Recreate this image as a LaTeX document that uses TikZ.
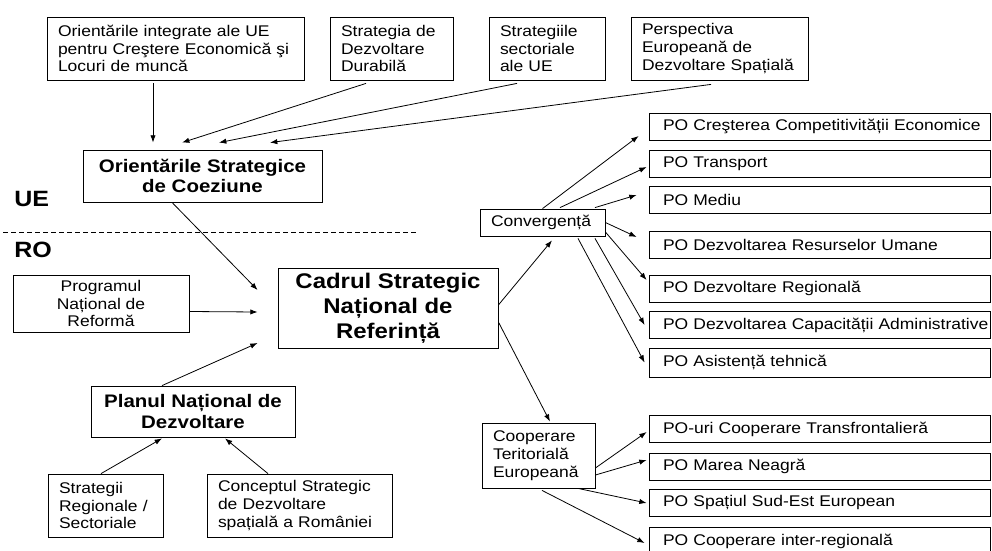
\documentclass[tikz,border=0pt]{standalone}
\usepackage{fontspec}
\setmainfont{Liberation Sans}[FakeStretch=1.13]
\usetikzlibrary{arrows.meta,calc}

\newcommand{\txtfont}{\fontsize{11.6pt}{13.3pt}\selectfont}
\newcommand{\keyfont}{\fontsize{13.6pt}{15.5pt}\selectfont\bfseries}
\newcommand{\bigkeyfont}{\fontsize{15.9pt}{18.75pt}\selectfont\bfseries}
\newcommand{\zonefont}{\fontsize{16.6pt}{20pt}\selectfont\bfseries}

\begin{document}
\begin{tikzpicture}[x=0.75pt,y=-0.75pt,
    srcbox/.style={draw,line width=0.6pt,align=left,inner xsep=8.25pt,inner ysep=0pt,font=\txtfont},
    keybox/.style={draw,line width=0.6pt,align=center,inner sep=0pt,font=\keyfont},
    pobox/.style={draw,line width=0.6pt,align=left,text width=255.75pt,inner xsep=0pt,inner ysep=0pt,
        minimum height=20.25pt,font=\txtfont,
        execute at begin node={\hyphenpenalty=10000\relax\hspace*{10.5pt}}},
    arr/.style={-{Latex[length=5.5pt,width=4pt]},line width=0.6pt},
    zone/.style={font=\zonefont,inner sep=0pt}]
    \useasboundingbox (0,0) rectangle (992,550);

    % sources at EU level
    \node[srcbox,text width=176.25pt,minimum height=47.25pt] (oig) at (175.5,48.5)
        {Orientările integrate ale UE\\pentru Creştere Economică şi\\Locuri de muncă};
    \node[srcbox,text width=75.75pt,minimum height=47.25pt] (sdd) at (391.5,48.5)
        {Strategia de\\Dezvoltare\\Durabilă};
    \node[srcbox,text width=70.5pt,minimum height=47.25pt] (ssue) at (547,48.5)
        {Strategiile\\sectoriale\\ale UE};
    \node[srcbox,text width=116.25pt,minimum height=47.25pt] (pedsp) at (719.5,48.5)
        {Perspectiva\\Europeană de\\Dezvoltare Spațială};

    \node[keybox,minimum width=179.25pt,minimum height=39pt] (osc) at (202.5,176)
        {Orientările Strategice\\de Coeziune};

    % EU / RO split
    \node[zone,anchor=base west] (ue) at (14,206) {UE};
    \draw[line width=0.6pt,dash pattern=on 3.75pt off 2.25pt] (3,232) -- (417,232);
    \node[zone,anchor=base west] (ro) at (14,257) {RO};

    % national level
    \node[keybox,font=\txtfont,minimum width=132pt,minimum height=42.75pt] (prog) at (101,303.5)
        {Programul\\Național de\\Reformă};
    \node[keybox,font=\bigkeyfont,minimum width=165pt,minimum height=60pt] (csnr) at (388,308)
        {Cadrul Strategic\\Național de\\Referință};
    \node[keybox,minimum width=153pt,minimum height=38.25pt] (pnd) at (193,411.5)
        {Planul Național de\\Dezvoltare};
    \node[srcbox,text width=69.75pt,minimum height=47.25pt] (strreg) at (105.5,505.5)
        {Strategii\\Regionale /\\Sectoriale};
    \node[srcbox,text width=122.25pt,minimum height=47.25pt] (csdsr) at (299.5,505.5)
        {Conceptul Strategic\\de Dezvoltare\\spațială a României};

    % objectives
    \node[srcbox,text width=77.25pt,minimum height=20.25pt] (conv) at (542.5,222.5) {Convergență};
    \node[srcbox,text width=68.25pt,minimum height=48.75pt] (cte) at (538.5,455.5)
        {Cooperare\\Teritorială\\Europeană};

    % operational programmes
    \node[pobox] (po1) at (819.5,126.5) {PO Creşterea Competitivității Economice};
    \node[pobox] (po2) at (819.5,163.5) {PO Transport};
    \node[pobox] (po3) at (819.5,200) {PO Mediu};
    \node[pobox] (po4) at (819.5,245) {PO Dezvoltarea Resurselor Umane};
    \node[pobox] (po5) at (819.5,288.5) {PO Dezvoltare Regională};
    \node[pobox] (po6) at (819.5,325) {PO Dezvoltarea Capacității Administrative};
    \node[pobox,minimum height=21.75pt] (po7) at (819.5,362.5) {PO Asistență tehnică};
    \node[pobox] (po8) at (819.5,429) {PO-uri Cooperare Transfrontalieră};
    \node[pobox] (po9) at (819.5,466.5) {PO Marea Neagră};
    \node[pobox] (po10) at (819.5,503) {PO Spațiul Sud-Est European};
    \node[pobox] (po11) at (819.5,541) {PO Cooperare inter-regională};

    % arrows
    \draw[arr] ($(oig.south)+(-22.5,3)$) -- ($(osc.north)+(-49.5,-7)$);
    \draw[arr] ($(sdd.south)+(-25.5,3)$) -- ($(osc.north)+(-20.5,-7)$);
    \draw[arr] ($(ssue.south)+(-30,3)$) -- ($(osc.north)+(16.5,-7)$);
    \draw[arr] ($(pedsp.south)+(-8.5,4)$) -- ($(osc.north)+(67.5,-7)$);

    \draw[arr] ($(osc.south)+(-30.5,0)$) -- ($(csnr.west)+(-20,-18)$);
    \draw[arr] ($(prog.east)+(0,8)$) -- ($(csnr.west)+(-20,4)$);
    \draw[arr] ($(pnd.north)+(-31,0)$) -- ($(csnr.west)+(-20,35)$);
    \draw[arr] ($(strreg.north)+(-4.5,0)$) -- ($(pnd.south)+(-31,1)$);
    \draw[arr] ($(csdsr.north)+(-31.5,0)$) -- ($(pnd.south)+(32,1)$);

    \draw[arr] ($(csnr.east)+(0,-3)$) -- ($(conv.south)+(9.5,4)$);
    \draw[arr] ($(csnr.east)+(0,14)$) -- ($(cte.north)+(11.5,-1)$);

    \draw[arr] (conv.north) -- ($(po1.west)+(-10,9.5)$);
    \draw[arr] ($(conv.north)+(17.5,-1)$) -- ($(po2.west)+(-2,3.5)$);
    \draw[arr] ($(conv.north)+(52.5,-1)$) -- ($(po3.west)+(-12,-5)$);
    \draw[arr] (conv.east) -- ($(po4.west)+(-12,-8)$);
    \draw[arr] ($(conv.east)+(0,9.5)$) -- ($(po5.west)+(-2,-8.5)$);
    \draw[arr] ($(conv.south)+(52.5,2)$) -- ($(po6.west)+(-4,0)$);
    \draw[arr] ($(conv.south)+(35.5,2)$) -- ($(po7.west)+(-4,0)$);

    \draw[arr] ($(cte.east)+(0,12.5)$) -- ($(po8.west)+(-2,3)$);
    \draw[arr] ($(cte.east)+(0,19.5)$) -- ($(po9.west)+(-2,-6.5)$);
    \draw[arr] ($(cte.south)+(39.5,0)$) -- ($(po10.west)+(-2,0)$);
    \draw[arr] ($(cte.south)+(3.5,2)$) -- ($(po11.west)+(-4,2)$);
\end{tikzpicture}
\end{document}
